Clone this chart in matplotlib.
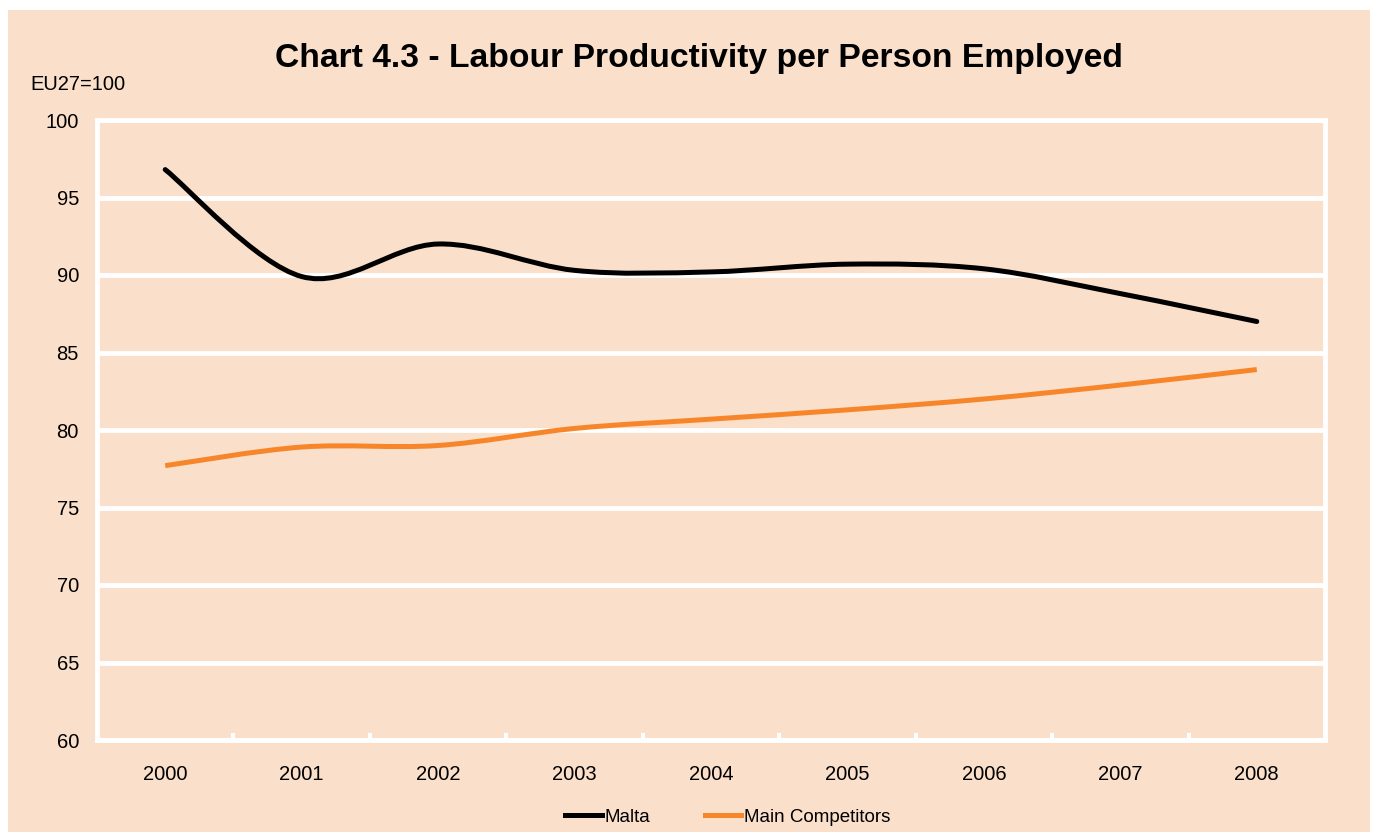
import matplotlib.pyplot as plt
from matplotlib.path import Path
from matplotlib.patches import PathPatch, Rectangle
from matplotlib.lines import Line2D

plt.rcParams['font.family'] = ['Liberation Sans', 'DejaVu Sans']

# dados
anos = ['2000', '2001', '2002', '2003', '2004', '2005', '2006', '2007', '2008']
malta = [96.8, 89.9, 92.0, 90.3, 90.2, 90.7, 90.4, 88.8, 87.0]
competidores = [77.7, 78.9, 79.0, 80.1, 80.7, 81.3, 82.0, 82.9, 83.9]

fundo = '#FADFCA'
laranja = '#F7862B'


def curva_suave(xs, ys):
    # curva tipo excel (bezier com tangentes catmull-rom)
    n = len(xs)
    verts = [(xs[0], ys[0])]
    codes = [Path.MOVETO]
    for i in range(n - 1):
        a = max(i - 1, 0)
        b = min(i + 2, n - 1)
        c1 = (xs[i] + (xs[i + 1] - xs[a]) / 6, ys[i] + (ys[i + 1] - ys[a]) / 6)
        c2 = (xs[i + 1] - (xs[b] - xs[i]) / 6, ys[i + 1] - (ys[b] - ys[i]) / 6)
        verts += [c1, c2, (xs[i + 1], ys[i + 1])]
        codes += [Path.CURVE4] * 3
    return Path(verts, codes)


fig = plt.figure(figsize=(13.75, 8.32), dpi=100, facecolor='white')
# fundo pessego com borda branca
fig.patches.append(Rectangle((8 / 1375, 0), 1362 / 1375, 822 / 832, transform=fig.transFigure,
                             facecolor=fundo, edgecolor='none', zorder=-10))

ax = fig.add_axes([97 / 1375, 1 - 740 / 832, 1228 / 1375, 620 / 832])
ax.set_facecolor(fundo)

x = list(range(len(anos)))
ax.add_patch(PathPatch(curva_suave(x, malta), facecolor='none', edgecolor='black',
                       lw=3.6, capstyle='round', zorder=3))
ax.add_patch(PathPatch(curva_suave(x, competidores), facecolor='none', edgecolor=laranja,
                       lw=3.6, capstyle='butt', zorder=3))

ax.set_xlim(-0.5, len(anos) - 0.5)
ax.set_ylim(60, 100)
ax.set_yticks(range(60, 101, 5))
ax.set_xticks(x)
ax.set_xticklabels(anos)
ax.set_xticks([i + 0.5 for i in range(len(anos) - 1)], minor=True)
ax.tick_params(axis='both', which='major', length=0, labelsize=14.5)
ax.tick_params(axis='x', which='major', pad=18)
ax.tick_params(axis='y', which='major', pad=13)
ax.tick_params(axis='x', which='minor', direction='in', length=5, width=3, color='white')

ax.grid(axis='y', color='white', lw=3.5)
ax.set_axisbelow(True)
for s in ax.spines.values():
    s.set_color('white')
    s.set_linewidth(3.5)

fig.text(699 / 1375, 1 - 58 / 832, 'Chart 4.3 - Labour Productivity per Person Employed',
         ha='center', va='center', fontsize=24.2, fontweight='bold')
fig.text(30 / 1375, 1 - 85 / 832, 'EU27=100', ha='left', va='center', fontsize=14.5)

itens = [Line2D([], [], color='black', lw=3.6), Line2D([], [], color=laranja, lw=3.6)]
fig.legend(itens, ['Malta', 'Main Competitors'], loc='center', bbox_to_anchor=(728 / 1375, 1 - 817 / 832),
           ncol=2, frameon=False, fontsize=13.5, handlelength=1.95, handletextpad=0.15,
           columnspacing=2.9)

fig.savefig('out.png', dpi=100, facecolor='white')
